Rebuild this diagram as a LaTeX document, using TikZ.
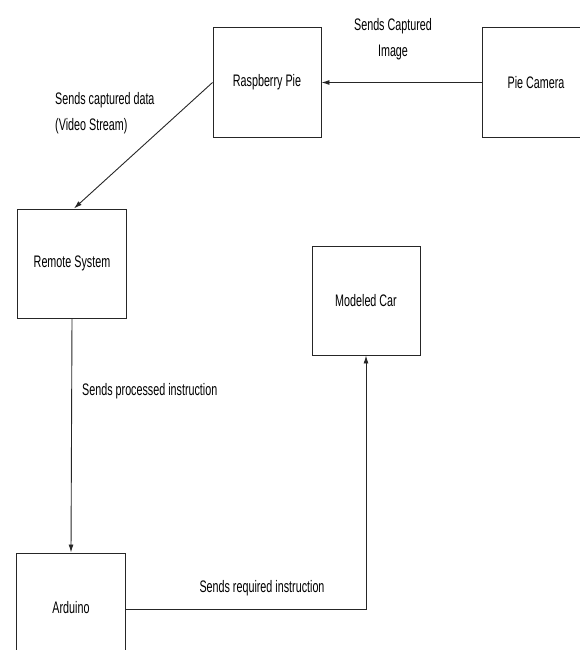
\documentclass[tikz,border=0pt]{standalone}
\usepackage{fontspec}
\setmainfont{Liberation Sans}
\usetikzlibrary{arrows.meta}
\newcommand*{\tallText}[1]{\scalebox{1}[1.55]{#1}}
\tikzset{blockstyle/.style={
    draw=black!85,
    line width=1bp,
    minimum width=108bp,
    minimum height=109bp,
    inner sep=0pt,
    font=\fontsize{10.8}{13}\selectfont
  },
  linkstyle/.style={
    draw=black!85,
    line width=0.9bp,
    -{Latex[length=8pt,width=5pt]}
  },
  labelstyle/.style={
    inner sep=0pt,
    font=\fontsize{10.8}{26}\selectfont
  }
}

\begin{document}
\begin{tikzpicture}[x=1bp,y=-1bp]
    \useasboundingbox (0,0) rectangle (580,650);
    \begin{scope}
    \clip (0,0) rectangle (580,650);
    \node[blockstyle] (rpi) at (267,82.5) {\tallText{Raspberry Pie}};
    \node[blockstyle] (cam) at (536,82.5) {\tallText{Pie Camera}};
    \node[blockstyle] (remote) at (72,263.5) {\tallText{Remote System}};
    \node[blockstyle] (car) at (366,300.5) {\tallText{Modeled Car}};
    \node[blockstyle] (arduino) at (71,607.5) {\tallText{Arduino}};

    \draw[linkstyle] (cam.west) -- (rpi.east);
    \draw[linkstyle] (rpi.west) -- ([xshift=2bp]remote.north);
    \draw[linkstyle] (remote.south) -- (arduino.north);
    \draw[linkstyle] ([yshift=-1.5bp]arduino.east) -| (car.south);
    \end{scope}

    \node[labelstyle,align=center] (lblImage) at (393,39) {\tallText{Sends Captured}\\\tallText{Image}};
    \node[labelstyle,align=left,anchor=west] (lblStream) at (55,113.5) {\tallText{Sends captured data}\\\tallText{(Video Stream)}};
    \node[labelstyle,anchor=west] (lblProcessed) at (82,391) {\tallText{Sends processed instruction}};
    \node[labelstyle] (lblRequired) at (262,588) {\tallText{Sends required instruction}};
\end{tikzpicture}
\end{document}
